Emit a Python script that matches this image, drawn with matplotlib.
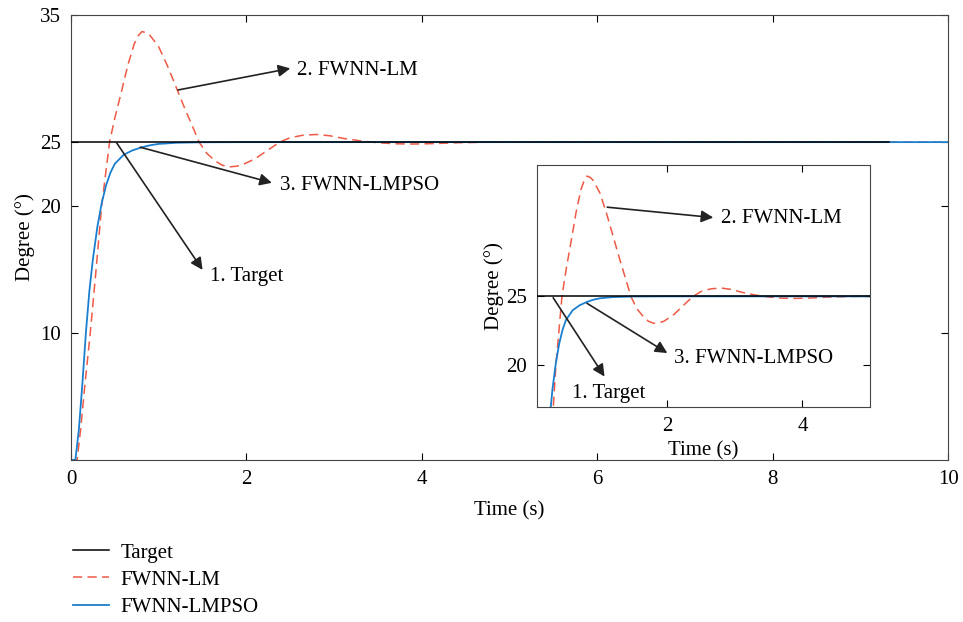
import matplotlib
matplotlib.use("Agg")
import matplotlib.pyplot as plt

plt.rcParams['font.family'] = ['Liberation Serif', 'DejaVu Serif']

# step response data
t_target = [0.0, 9.33]
y_target = [25.0, 25.0]

t_lm = [0.0, 0.07, 0.11, 0.16, 0.22, 0.28, 0.35, 0.44, 0.5, 0.58, 0.65, 0.72, 0.77,
        0.81, 0.86, 0.9, 1.0, 1.1, 1.2, 1.3, 1.4, 1.46, 1.55, 1.65, 1.72, 1.8, 1.88,
        1.95, 2.1, 2.25, 2.38, 2.5, 2.65, 2.8, 2.95, 3.1, 3.3, 3.5, 3.7, 3.9, 4.1,
        4.4, 4.8, 10.0]
y_lm = [0.0, 0.0, 2.4, 6.0, 10.0, 14.5, 20.0, 25.0, 26.9, 29.1, 31.1, 32.7, 33.4,
        33.7, 33.6, 33.4, 32.5, 31.0, 29.3, 27.6, 26.0, 25.0, 24.1, 23.5, 23.2, 23.05, 23.1,
        23.2, 23.7, 24.4, 25.0, 25.35, 25.55, 25.6, 25.5, 25.3, 25.1, 24.95, 24.87, 24.85, 24.88,
        24.95, 25.0, 25.0]

t_pso = [0.0, 0.05, 0.09, 0.13, 0.17, 0.21, 0.25, 0.3, 0.35, 0.4, 0.45, 0.5, 0.6,
         0.7, 0.8, 0.9, 1.0, 1.2, 1.5, 2.0, 10.0]
y_pso = [0.0, 0.0, 2.4, 6.0, 10.0, 13.3, 15.8, 18.3, 20.2, 21.6, 22.6, 23.3, 24.0,
         24.35, 24.58, 24.75, 24.86, 24.95, 24.99, 25.0, 25.0]

labels = ['Target', 'FWNN-LM', 'FWNN-LMPSO']
red = '#ee5a45'
blue = '#1a7fcf'
FS = 15

fig = plt.figure(figsize=(9.63, 6.22), dpi=100)
ax = fig.add_axes([0.0737, 0.2605, 0.911, 0.7154])


def draw(a):
    a.plot(t_target, y_target, color='black', lw=1.1, label=labels[0], zorder=3)
    a.plot(t_lm, y_lm, color=red, lw=1.1, ls=(0, (6, 3.5)), label=labels[1], zorder=2)
    a.plot(t_pso, y_pso, color=blue, lw=1.3, label=labels[2], zorder=2)
    a.tick_params(direction='in', top=True, right=True, labelsize=FS, length=5, pad=7)
    for s in a.spines.values():
        s.set_color('#444444')


draw(ax)
ax.set_xlim(0, 10)
ax.set_ylim(0, 35)
ax.set_xticks([0, 2, 4, 6, 8, 10])
ax.set_yticks([10, 20, 25, 35])
ax.set_xlabel('Time (s)', fontsize=FS, labelpad=9)
ax.set_ylabel('Degree (°)', fontsize=FS, labelpad=4)

arw = dict(arrowstyle='-|>', color='#222222', lw=1.2, mutation_scale=18, shrinkA=0, shrinkB=0)
ax.annotate('', xy=(2.5, 30.8), xytext=(1.22, 29.1), arrowprops=arw)
ax.text(2.58, 30.6, '2. FWNN-LM', fontsize=FS, va='center')
ax.annotate('', xy=(2.29, 21.8), xytext=(0.79, 24.6), arrowprops=arw)
ax.text(2.38, 21.6, '3. FWNN-LMPSO', fontsize=FS, va='center')
ax.annotate('', xy=(1.5, 14.95), xytext=(0.52, 24.95), arrowprops=arw)
ax.text(1.58, 14.4, '1. Target', fontsize=FS, va='center')

# zoomed inset
ins = fig.add_axes([0.5576, 0.3457, 0.3458, 0.389])
draw(ins)
ins.set_xlim(0.07, 5.0)
ins.set_ylim(17, 34.5)
ins.set_xticks([2, 4])
ins.set_yticks([20, 25])
ins.set_xlabel('Time (s)', fontsize=FS, labelpad=4)
ins.set_ylabel('Degree (°)', fontsize=FS, labelpad=2)
ins.annotate('', xy=(2.68, 30.7), xytext=(1.11, 31.45), arrowprops=arw)
ins.text(2.8, 30.6, '2. FWNN-LM', fontsize=FS, va='center')
ins.annotate('', xy=(2.0, 20.9), xytext=(0.81, 24.5), arrowprops=arw)
ins.text(2.1, 20.5, '3. FWNN-LMPSO', fontsize=FS, va='center')
ins.annotate('', xy=(1.07, 19.2), xytext=(0.31, 24.9), arrowprops=arw)
ins.text(0.59, 18.0, '1. Target', fontsize=FS, va='center')

h, l = ax.get_legend_handles_labels()
fig.legend(h, l, loc='upper left', bbox_to_anchor=(0.056, 0.157), frameon=False,
           fontsize=FS, handlelength=1.75, labelspacing=0.36, handletextpad=0.55)

fig.savefig('out.png', dpi=100)
